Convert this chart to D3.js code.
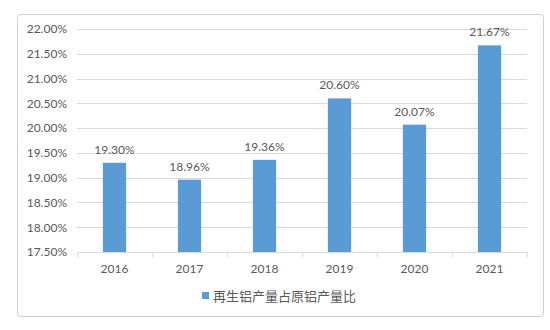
<!DOCTYPE html>
<html>
<head>
<meta charset="utf-8">
<script src="https://cdn.jsdelivr.net/npm/d3@7"></script>
<style>
  html, body { margin: 0; padding: 0; background: #fff; }
  svg { display: block; }
</style>
</head>
<body>
<svg id="chart" width="550" height="330"></svg>
<script>
// Data: ratio of recycled aluminium output to primary aluminium output (%)
const years = ["2016", "2017", "2018", "2019", "2020", "2021"];
const ratios = [19.30, 18.96, 19.36, 20.60, 20.07, 21.67];
const yTicks = [17.5, 18.0, 18.5, 19.0, 19.5, 20.0, 20.5, 21.0, 21.5, 22.0];
const seriesName = "再生铝产量占原铝产量比";

const svg = d3.select("#chart");
const textColor = "#595959";
const gridColor = "#d9d9d9";
const barColor = "#5b9bd5";
const numFont = "Lato, 'Open Sans', sans-serif";

// Outer chart frame
svg.append("rect")
  .attr("x", 17.5).attr("y", 14.5)
  .attr("width", 526).attr("height", 302)
  .attr("rx", 3).attr("ry", 3)
  .attr("fill", "#fff")
  .attr("stroke", "#d0d0d0");

const plot = { left: 77, right: 527, top: 29, bottom: 252 };

const x = d3.scaleBand()
  .domain(years)
  .range([plot.left, plot.right])
  .paddingInner(0.69)
  .paddingOuter(0.345);

const y = d3.scaleLinear()
  .domain([17.5, 22.0])
  .range([plot.bottom, plot.top]);

// Horizontal gridlines
svg.append("g")
  .selectAll("line")
  .data(yTicks.filter(t => t > 17.5))
  .join("line")
  .attr("x1", plot.left).attr("x2", plot.right)
  .attr("y1", d => Math.round(y(d)) + 0.5)
  .attr("y2", d => Math.round(y(d)) + 0.5)
  .attr("stroke", gridColor)
  .attr("stroke-width", 1);

// Y axis labels
const yAxis = d3.axisLeft(y)
  .tickValues(yTicks)
  .tickFormat(d => d.toFixed(2) + "%")
  .tickSize(0)
  .tickPadding(10);
const gy = svg.append("g")
  .attr("transform", `translate(${plot.left},0)`)
  .call(yAxis);
gy.select(".domain").remove();
gy.selectAll("text")
  .attr("fill", textColor)
  .style("font-family", numFont)
  .style("font-size", "12px");

// X axis with tick marks at category boundaries
const gx = svg.append("g")
  .attr("transform", `translate(0,${Math.round(plot.bottom) + 0.5})`);
gx.append("line")
  .attr("x1", plot.left).attr("x2", plot.right)
  .attr("stroke", gridColor);
const boundaries = d3.range(years.length + 1).map(i => plot.left + i * (plot.right - plot.left) / years.length);
gx.selectAll("line.tick")
  .data(boundaries)
  .join("line")
  .attr("class", "tick")
  .attr("x1", d => Math.round(d) + 0.5).attr("x2", d => Math.round(d) + 0.5)
  .attr("y1", 0).attr("y2", 5)
  .attr("stroke", gridColor);
gx.selectAll("text")
  .data(years)
  .join("text")
  .attr("x", d => x(d) + x.bandwidth() / 2)
  .attr("y", 20)
  .attr("text-anchor", "middle")
  .attr("fill", textColor)
  .style("font-family", numFont)
  .style("font-size", "12px")
  .text(d => d);

// Bars
svg.append("g")
  .selectAll("rect")
  .data(years.map((yr, i) => ({ yr, v: ratios[i] })))
  .join("rect")
  .attr("x", d => x(d.yr))
  .attr("y", d => y(d.v))
  .attr("width", x.bandwidth())
  .attr("height", d => y(17.5) - y(d.v))
  .attr("fill", barColor);

// Value labels
svg.append("g")
  .selectAll("text")
  .data(years.map((yr, i) => ({ yr, v: ratios[i] })))
  .join("text")
  .attr("x", d => x(d.yr) + x.bandwidth() / 2)
  .attr("y", d => y(d.v) - 9)
  .attr("text-anchor", "middle")
  .attr("fill", textColor)
  .style("font-family", numFont)
  .style("font-size", "12px")
  .text(d => d.v.toFixed(2) + "%");

// Legend
const legend = svg.append("g").attr("transform", "translate(202,292)");
legend.append("rect")
  .attr("x", 0).attr("y", 0)
  .attr("width", 7).attr("height", 7)
  .attr("fill", barColor);
legend.append("text")
  .attr("x", 11).attr("y", 9)
  .attr("fill", textColor)
  .style("font-family", "'Noto Sans CJK SC', sans-serif")
  .style("font-size", "13px")
  .text(seriesName);
</script>
</body>
</html>
